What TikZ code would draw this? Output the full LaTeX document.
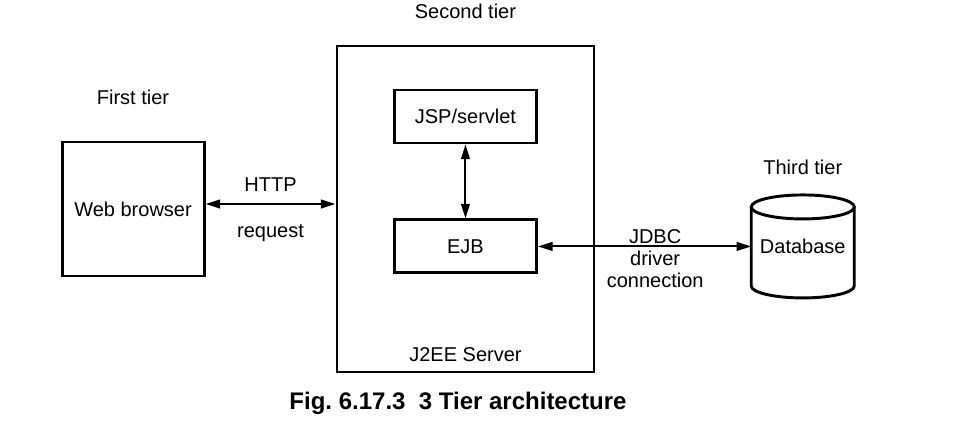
\documentclass[tikz,border=0pt]{standalone}
\usepackage{fontspec}
\setmainfont{Liberation Sans}
\usetikzlibrary{positioning,arrows.meta}

\begin{document}
\begin{tikzpicture}
                [font=\fontsize{15}{16.5}\selectfont,
                box/.style={rectangle,draw,line width=2.2pt,minimum width=106.5pt,minimum height=39.75pt},
                lbl/.style={inner sep=0pt},
                link/.style={line width=1.5pt,{Triangle[length=11pt,width=6.5pt]}-{Triangle[length=11pt,width=6.5pt]}}]
                \useasboundingbox (0,0) rectangle (721.5pt,-315.75pt);
                \node[box,minimum width=192.75pt,minimum height=244.5pt] (server) at (349.1pt,-156.75pt){};
                \node[box,minimum height=100.5pt] (browser)[left=97.5pt of server]{Web browser};
                \node[box] (jsp)[below=33pt of server.north]{JSP/servlet};
                \node[box] (ejb)[below=55.5pt of jsp]{EJB};
                \node[outer sep=0pt,minimum size=77.25pt] (db)[right=160pt of ejb]{Database};
                % database cylinder
                \draw[line width=2.2pt] ([yshift=-9pt]db.north) ellipse (38.625pt and 9pt);
                \draw[line width=2.2pt] ([yshift=-9pt]db.north west) -- ([yshift=9pt]db.south west)
                        arc[start angle=180,end angle=360,x radius=38.625pt,y radius=9pt] -- ([yshift=-9pt]db.north east);
                % tier labels
                \node[lbl] (tier1)[above=26.5pt of browser]{First tier};
                \node[lbl] (tier2)[above=19pt of server]{Second tier};
                \node[lbl] (tier3)[above=14.9pt of db]{Third tier};
                \node[lbl] (j2ee)[above=9pt of server.south]{J2EE Server};
                \node[lbl,font=\fontsize{18}{20}\selectfont\bfseries,xshift=-5.6pt] (caption)[below=14pt of server]{Fig.\ 6.17.3\ \ 3 Tier architecture};
                % connections
                \draw[link] ([yshift=3.75pt]browser.east) -- ([yshift=3.75pt]server.west)
                        node[lbl,midway,above=9pt]{HTTP}
                        node[lbl,midway,below=14.5pt]{request};
                \draw[link] (jsp) -- (ejb);
                \draw[link] (ejb.east) -- (ejb.east -| db.west)
                        node[lbl,midway,anchor=north,yshift=13.5pt,xshift=7.9pt,align=center]{JDBC\\driver\\connection};
\end{tikzpicture}
\end{document}
